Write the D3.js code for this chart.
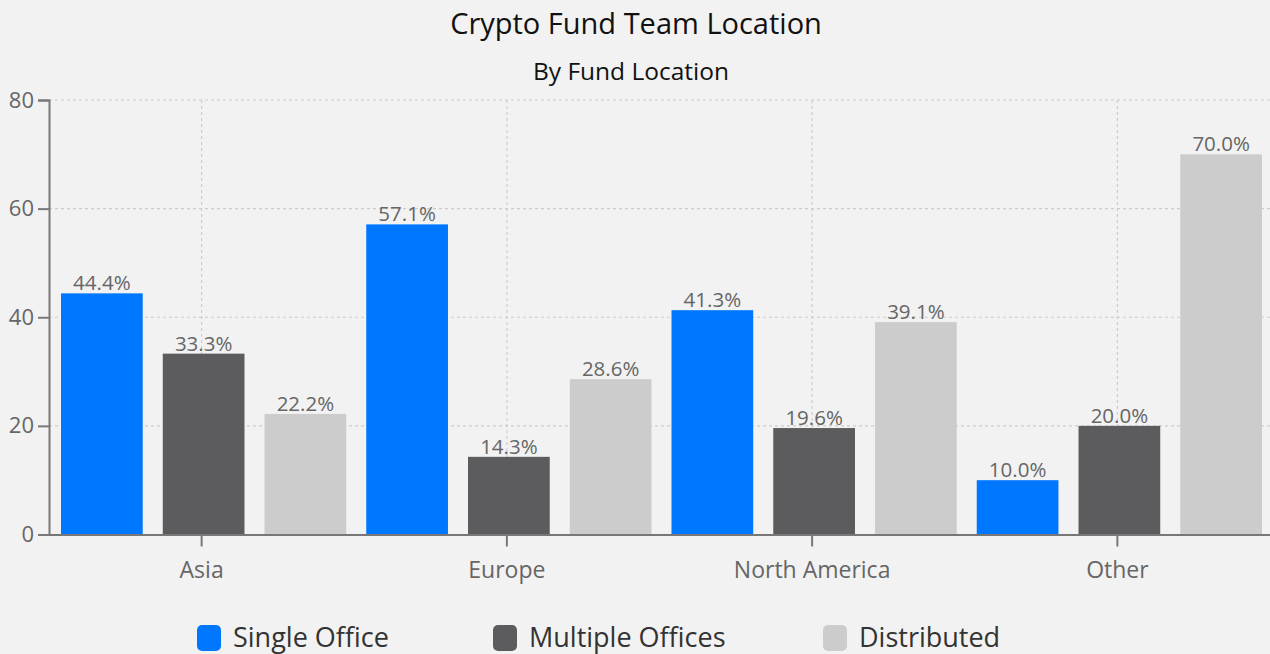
<!DOCTYPE html>
<html><head><meta charset="utf-8">
<script src="https://cdn.jsdelivr.net/npm/d3@7"></script>
<style>
html,body{margin:0;padding:0;background:#f2f2f2;}
text{font-family:"Open Sans","Noto Sans",sans-serif;}
</style></head>
<body><svg id="c" width="1270" height="654"></svg>
<script>
const categories = ["Asia","Europe","North America","Other"];
const seriesNames = ["Single Office","Multiple Offices","Distributed"];
const singleOffice = [44.4,57.1,41.3,10.0];
const multipleOffices = [33.3,14.3,19.6,20.0];
const distributed = [22.2,28.6,39.1,70.0];
const yTicks = [0,20,40,60,80];
const colors = ["#0077ff","#5c5c5e","#cccccc"];
const series = [singleOffice,multipleOffices,distributed];

(function(){
const svg = d3.select("#c");
const W=1270,H=654;
svg.append("rect").attr("width",W).attr("height",H).attr("fill","#f2f2f2");
const pLeft=49,pRight=1270,pTop=100,pBottom=534.5;
const x0=d3.scaleBand().domain(categories).range([pLeft,pRight]).padding(0);
const x1=d3.scaleBand().domain(seriesNames).range([12,x0.bandwidth()-8]).paddingInner(0.197).paddingOuter(0);
const y=d3.scaleLinear().domain([0,80]).range([pBottom,pTop]);

// grid
const g=svg.append("g");
g.selectAll("line.h").data(yTicks).join("line")
 .attr("x1",pLeft).attr("x2",pRight).attr("y1",d=>y(d)).attr("y2",d=>y(d))
 .attr("stroke","#cccccc").attr("stroke-width",1.2).attr("stroke-dasharray","3,3");
g.selectAll("line.v").data(categories).join("line")
 .attr("x1",d=>x0(d)+x0.bandwidth()/2).attr("x2",d=>x0(d)+x0.bandwidth()/2)
 .attr("y1",pTop).attr("y2",pBottom)
 .attr("stroke","#cccccc").attr("stroke-width",1.2).attr("stroke-dasharray","3,3");

// bars
categories.forEach((c,ci)=>{
  seriesNames.forEach((s,si)=>{
    const v=series[si][ci];
    const bx=x0(c)+x1(s);
    svg.append("rect").attr("x",bx).attr("width",x1.bandwidth())
      .attr("y",y(v)).attr("height",y(0)-y(v)).attr("fill",colors[si]);
    svg.append("text").attr("x",bx+x1.bandwidth()/2).attr("y",y(v)-3)
      .attr("text-anchor","middle").attr("font-size",20.5).attr("fill","#666")
      .text(v.toFixed(1)+"%");
  });
});

// axes
const ya=svg.append("g").attr("transform",`translate(${pLeft},0)`)
 .call(d3.axisLeft(y).tickValues(yTicks).tickSize(11).tickPadding(4));
ya.select(".domain").attr("stroke","#777").attr("stroke-width",2);
ya.selectAll(".tick line").attr("stroke","#777").attr("stroke-width",2);
ya.selectAll("text").attr("font-size",22).attr("fill","#666").attr("font-family","'Open Sans',sans-serif");

const xa=svg.append("g").attr("transform",`translate(0,${pBottom})`)
 .call(d3.axisBottom(x0).tickSize(12).tickPadding(15).tickSizeOuter(0));
xa.select(".domain").attr("stroke","#777").attr("stroke-width",2);
xa.selectAll(".tick line").attr("stroke","#777").attr("stroke-width",2);
xa.selectAll("text").attr("font-size",23).attr("fill","#666").attr("font-family","'Open Sans',sans-serif");

// titles
svg.append("text").attr("x",636).attr("y",34).attr("text-anchor","middle")
 .attr("font-size",29).attr("fill","#111").text("Crypto Fund Team Location");
svg.append("text").attr("x",631).attr("y",80).attr("text-anchor","middle")
 .attr("font-size",24.5).attr("fill","#111").text("By Fund Location");

// legend
const legX=[197,493,823];
seriesNames.forEach((s,i)=>{
  svg.append("rect").attr("x",legX[i]).attr("y",625).attr("width",24).attr("height",26)
   .attr("rx",5).attr("fill",colors[i]);
  svg.append("text").attr("x",legX[i]+36).attr("y",647).attr("font-size",27)
   .attr("fill","#333").text(s);
});
})();
</script></body></html>
